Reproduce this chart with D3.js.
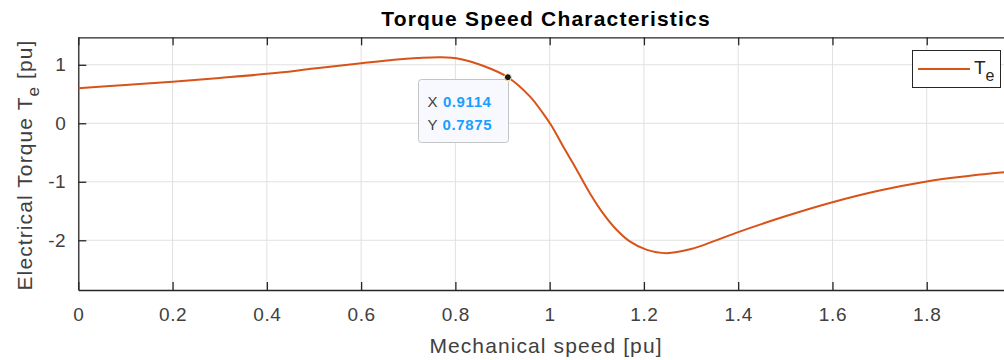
<!DOCTYPE html>
<html>
<head>
<meta charset="utf-8">
<script src="https://cdn.jsdelivr.net/npm/d3@7"></script>
<style>
  body { margin:0; background:#fff; }
  svg { display:block; font-family:"Liberation Sans", Arial, sans-serif; }
</style>
</head>
<body>
<svg id="chart" width="1004" height="360"></svg>
<script>
// data
var speed  = [0, 0.1, 0.2, 0.3, 0.4, 0.5, 0.6, 0.67, 0.72, 0.77, 0.81, 0.86, 0.9114, 0.958, 0.986, 1.003, 1.029, 1.057, 1.085, 1.113, 1.142, 1.170, 1.205, 1.248, 1.30, 1.35, 1.4, 1.5, 1.6, 1.7, 1.8, 1.9, 2.0];
var torque = [0.60, 0.655, 0.71, 0.775, 0.845, 0.935, 1.025, 1.085, 1.115, 1.13, 1.10, 0.98, 0.7875, 0.46, 0.17, -0.03, -0.40, -0.79, -1.19, -1.535, -1.82, -2.02, -2.16, -2.22, -2.15, -2.01, -1.86, -1.59, -1.35, -1.15, -0.995, -0.89, -0.81];
var xTicks = [0, 0.2, 0.4, 0.6, 0.8, 1, 1.2, 1.4, 1.6, 1.8];
var yTicks = [-2, -1, 0, 1];
var tip = {x: 0.9114, y: 0.7875};

var svg = d3.select("#chart");
var L = 78.3, R = 1021, T = 37.3, B = 290;
var x = d3.scaleLinear().domain([0, 2]).range([L, R]);
var y = d3.scaleLinear().domain([-2.85, 1.47]).range([B, T]);
var axisCol = "#262626";

// grid
var grid = svg.append("g");
grid.selectAll(".gx").data(xTicks).enter().append("line")
  .attr("x1", function(d){return x(d);}).attr("x2", function(d){return x(d);})
  .attr("y1", T).attr("y2", B).attr("stroke", "#e1e1e1").attr("stroke-width", 1);
grid.selectAll(".gy").data(yTicks).enter().append("line")
  .attr("y1", function(d){return y(d);}).attr("y2", function(d){return y(d);})
  .attr("x1", L).attr("x2", R).attr("stroke", "#e1e1e1").attr("stroke-width", 1);

// axes (inward ticks, box)
var fmt = function(d){ return String(d); };
svg.append("g").attr("transform", "translate(0," + B + ")")
  .call(d3.axisBottom(x).tickValues(xTicks).tickSizeInner(-8).tickSizeOuter(0).tickPadding(18).tickFormat(fmt));
svg.append("g").attr("transform", "translate(0," + T + ")")
  .call(d3.axisTop(x).tickValues(xTicks).tickSizeInner(-8).tickSizeOuter(0).tickFormat(""));
svg.append("g").attr("transform", "translate(" + L + ",0)")
  .call(d3.axisLeft(y).tickValues(yTicks).tickSizeInner(-8).tickSizeOuter(0).tickPadding(12).tickFormat(fmt));
svg.selectAll(".domain").attr("stroke", axisCol).attr("stroke-width", 1.3);
svg.selectAll(".tick line").attr("stroke", axisCol).attr("stroke-width", 1.3);
svg.selectAll(".tick text").attr("fill", "#404040").attr("font-size", 19).attr("letter-spacing", 0.6)
  .attr("font-family", "Liberation Sans, Arial, sans-serif");

// curve
svg.append("clipPath").attr("id", "clip").append("rect")
  .attr("x", L).attr("y", T).attr("width", R - L).attr("height", B - T);
var pts = speed.map(function(s, i){ return [s, torque[i]]; });
svg.append("path").datum(pts)
  .attr("clip-path", "url(#clip)")
  .attr("d", d3.line().x(function(d){return x(d[0]);}).y(function(d){return y(d[1]);}).curve(d3.curveCatmullRom.alpha(0.5)))
  .attr("fill", "none").attr("stroke", "#D95319").attr("stroke-width", 2);

// data tip
var bx = 418.5, by = 79.5;
svg.append("rect").attr("x", bx).attr("y", by).attr("width", 90).attr("height", 63)
  .attr("rx", 3).attr("fill", "#f8f9fe").attr("stroke", "#c4c4c4").attr("stroke-width", 1);
var tx = svg.append("text").attr("x", bx + 9).attr("y", by + 27).attr("font-size", 15).attr("letter-spacing", 0.6).attr("fill", "#404040");
tx.append("tspan").text("X ");
tx.append("tspan").attr("fill", "#1a9fff").attr("font-weight", "bold").text(tip.x.toFixed(4));
var ty = svg.append("text").attr("x", bx + 9).attr("y", by + 50).attr("font-size", 15).attr("letter-spacing", 0.6).attr("fill", "#404040");
ty.append("tspan").text("Y ");
ty.append("tspan").attr("fill", "#1a9fff").attr("font-weight", "bold").text(tip.y.toFixed(4));
svg.append("circle").attr("cx", x(tip.x)).attr("cy", y(tip.y)).attr("r", 3.5)
  .attr("fill", "#1a1a1a").attr("stroke", "#fff8c0").attr("stroke-width", 1);

// legend
var lg = svg.append("g");
lg.append("rect").attr("x", 912.5).attr("y", 50.5).attr("width", 88).attr("height", 37)
  .attr("fill", "#fff").attr("stroke", axisCol).attr("stroke-width", 1);
lg.append("line").attr("x1", 918).attr("x2", 970).attr("y1", 69).attr("y2", 69)
  .attr("stroke", "#D95319").attr("stroke-width", 2);
var lt = lg.append("text").attr("x", 974).attr("y", 74).attr("font-size", 19).attr("fill", "#262626");
lt.append("tspan").text("T");
lt.append("tspan").attr("dy", 7).attr("font-size", 16).text("e");

// title and labels
svg.append("text").attr("x", 546).attr("y", 26).attr("text-anchor", "middle")
  .attr("font-size", 21).attr("letter-spacing", 1.2).attr("font-weight", "bold").attr("fill", "#000")
  .text("Torque Speed Characteristics");
svg.append("text").attr("x", 546).attr("y", 353).attr("text-anchor", "middle")
  .attr("font-size", 21).attr("letter-spacing", 1.1).attr("fill", "#404040").text("Mechanical speed [pu]");
var yl = svg.append("text").attr("transform", "translate(32,165) rotate(-90)")
  .attr("text-anchor", "middle").attr("font-size", 21).attr("letter-spacing", 1.1).attr("fill", "#404040");
yl.append("tspan").text("Electrical Torque T");
yl.append("tspan").attr("dy", 7).attr("font-size", 17).text("e");
yl.append("tspan").attr("dy", -7).text(" [pu]");
</script>
</body>
</html>
